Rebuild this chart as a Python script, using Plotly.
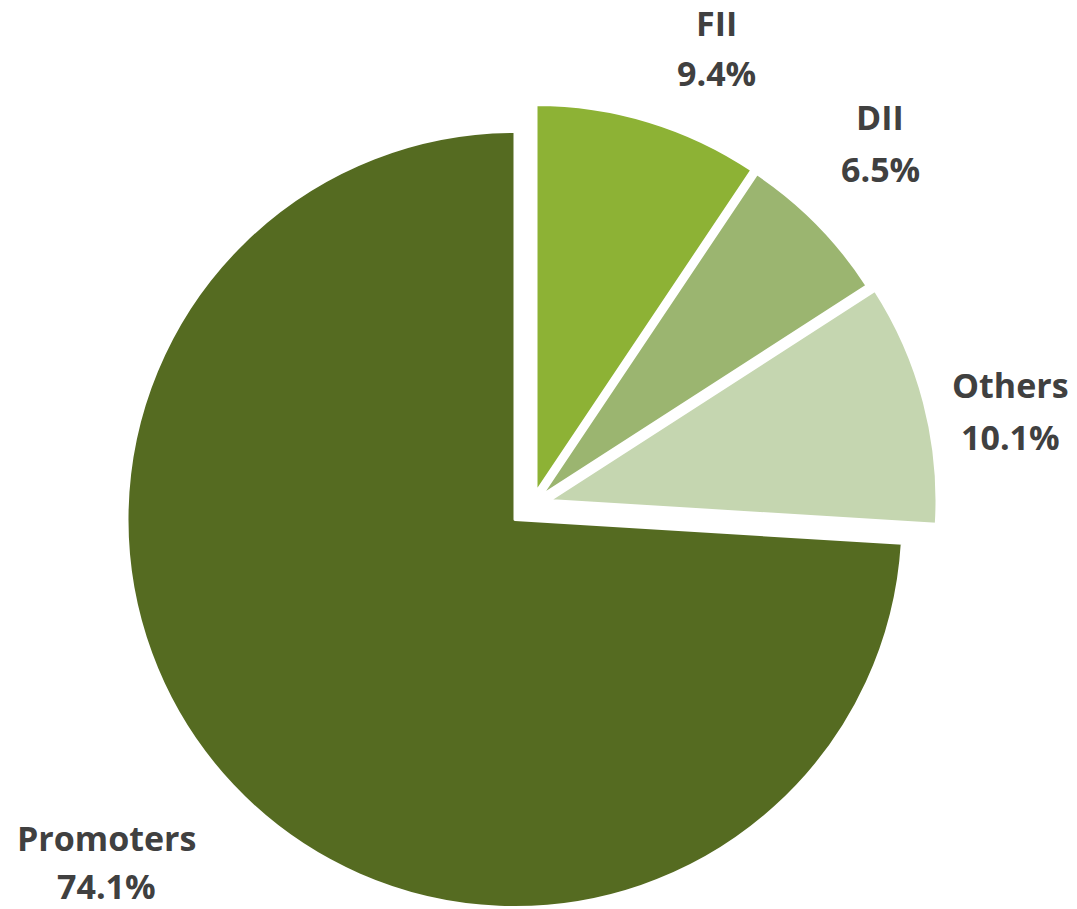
import plotly.graph_objects as go

# Data
labels = ["FII", "DII", "Others", "Promoters"]
values = [9.4, 6.5, 10.1, 74.1]
colors = ["#8DB235", "#9BB570", "#C5D6B0", "#556B21"]

# Layout geometry (pixels)
W, H = 1077, 909
R = 388
centers = [(536, 492.5), (541, 496), (549, 500.5), (515, 519.5)]
label_pos = [(716, 23, 73), (880, 117.5, 168.5), (1010, 385, 437), (106, 838, 886)]

fig = go.Figure()
n = len(labels)
for i in range(n):
    cx, cy = centers[i]
    slice_colors = [colors[j] if j == i else "rgba(0,0,0,0)" for j in range(n)]
    widths = [3 if j == i else 0 for j in range(n)]
    fig.add_trace(go.Pie(
        labels=labels,
        values=values,
        sort=False,
        direction="clockwise",
        rotation=0,
        textinfo="none",
        hoverinfo="skip",
        showlegend=False,
        marker=dict(colors=slice_colors, line=dict(color="white", width=widths)),
        domain=dict(x=[(cx - R) / W, (cx + R) / W],
                    y=[1 - (cy + R) / H, 1 - (cy - R) / H]),
    ))

annotations = []
font = dict(family="Open Sans", size=34, color="#404040", weight="bold")
for i in range(n):
    x, y1, y2 = label_pos[i]
    for txt, yy in ((labels[i], y1), (f"{values[i]:.1f}%", y2)):
        annotations.append(dict(
            text=txt, x=x / W, y=1 - yy / H, xref="paper", yref="paper",
            xanchor="center", yanchor="middle", showarrow=False, font=font,
        ))

fig.update_layout(
    width=W, height=H,
    margin=dict(l=0, r=0, t=0, b=0),
    paper_bgcolor="white", plot_bgcolor="white",
    annotations=annotations,
)

fig.write_html(
    "out.html",
    config={"displayModeBar": False},
    post_script="document.body.style.margin='0';document.body.style.overflow='hidden';",
)
